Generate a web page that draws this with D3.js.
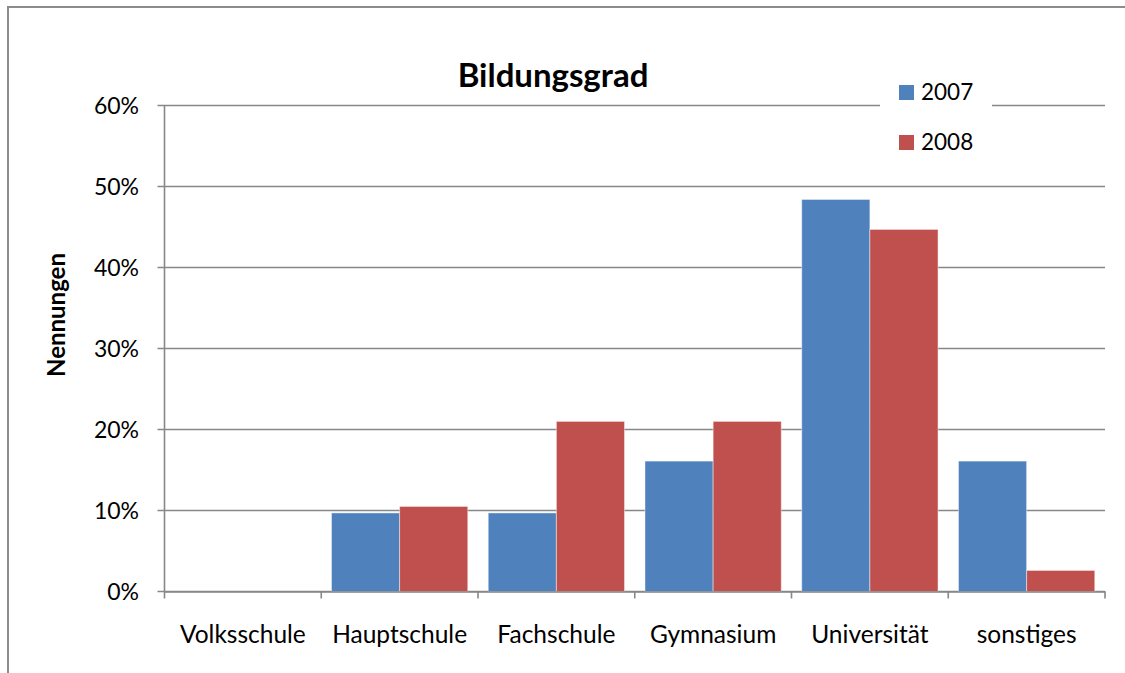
<!DOCTYPE html>
<html>
<head>
<meta charset="utf-8">
<script src="https://cdn.jsdelivr.net/npm/d3@7"></script>
<style>
  html, body { margin: 0; background: #fff; overflow: hidden; }
  svg { display: block; font-family: Lato, 'Open Sans', sans-serif; }
</style>
</head>
<body>
<svg id="chart"></svg>
<script>
// Data (share of mentions per school type)
const categories = ['Volksschule', 'Hauptschule', 'Fachschule', 'Gymnasium', 'Universität', 'sonstiges'];
const years = ['2007', '2008'];
const values2007 = [0, 0.097, 0.097, 0.161, 0.484, 0.161];
const values2008 = [0, 0.105, 0.21, 0.21, 0.447, 0.026];
const yTicks = [0, 0.1, 0.2, 0.3, 0.4, 0.5, 0.6];

const colors = { '2007': '#4F81BD', '2008': '#C0504D' };

const rows = categories.map((c, i) => ({ category: c, '2007': values2007[i], '2008': values2008[i] }));

const width = 1125;
const height = 673;
const marginTop = 105.5;
const marginRight = 20;
const marginBottom = 81.5;
const marginLeft = 164.5;
const gridColor = '#888888';

const svg = d3.select('#chart').attr('width', width).attr('height', height);

// outer frame: only the top and left edges are in the picture
svg.append('line')
  .attr('x1', 7).attr('x2', width)
  .attr('y1', 7).attr('y2', 7)
  .attr('stroke', '#8c8c8c')
  .attr('stroke-width', 2);
svg.append('line')
  .attr('x1', 8).attr('x2', 8)
  .attr('y1', 7).attr('y2', height)
  .attr('stroke', '#8c8c8c')
  .attr('stroke-width', 2);

const x = d3.scaleBand()
  .domain(categories)
  .range([marginLeft, width - marginRight]);

const xInner = d3.scaleBand()
  .domain(years)
  .range([0, x.bandwidth()])
  .paddingOuter(0.15);

const y = d3.scaleLinear()
  .domain([0, 0.6])
  .range([height - marginBottom, marginTop]);

// gridlines + y ticks
svg.append('g')
  .selectAll('line')
  .data(yTicks)
  .join('line')
  .attr('x1', marginLeft - 7)
  .attr('x2', width - marginRight)
  .attr('y1', (d) => y(d))
  .attr('y2', (d) => y(d))
  .attr('stroke', gridColor)
  .attr('stroke-width', 1.6);

svg.append('g')
  .selectAll('text')
  .data(yTicks)
  .join('text')
  .attr('x', 139)
  .attr('y', (d) => y(d))
  .attr('dy', '0.35em')
  .attr('text-anchor', 'end')
  .attr('font-size', 23)
  .attr('fill', '#000')
  .text(d3.format('.0%'));

// bars
svg.append('g')
  .selectAll('g')
  .data(rows)
  .join('g')
  .attr('transform', (d) => `translate(${x(d.category)},0)`)
  .selectAll('rect')
  .data((d) => years.map((yr) => ({ key: yr, value: d[yr] })))
  .join('rect')
  .attr('x', (d) => xInner(d.key))
  .attr('y', (d) => y(d.value))
  .attr('width', xInner.bandwidth())
  .attr('height', (d) => y(0) - y(d.value))
  .attr('fill', (d) => colors[d.key])
  .attr('stroke', 'rgba(255,255,255,0.45)')
  .attr('stroke-width', 1);

// y axis line
svg.append('line')
  .attr('x1', marginLeft).attr('x2', marginLeft)
  .attr('y1', y(0.6)).attr('y2', y(0))
  .attr('stroke', gridColor)
  .attr('stroke-width', 1.6);

// x axis
const xAxis = svg.append('g')
  .attr('transform', `translate(0,${y(0)})`)
  .call(d3.axisBottom(x).tickSize(0).tickPadding(34).tickSizeOuter(0));
xAxis.select('.domain').attr('stroke', gridColor).attr('stroke-width', 1.6);
xAxis.selectAll('text').attr('font-size', 24.5).attr('fill', '#000').attr('font-family', 'Lato');

// tick marks at the category boundaries
const bounds = categories.map((c) => x(c)).concat([x(categories[categories.length - 1]) + x.bandwidth()]);
xAxis.append('g')
  .selectAll('line')
  .data(bounds)
  .join('line')
  .attr('x1', (d) => d).attr('x2', (d) => d)
  .attr('y1', 0).attr('y2', 7)
  .attr('stroke', gridColor)
  .attr('stroke-width', 1.6);

// y axis title
svg.append('text')
  .attr('transform', `translate(65,315) rotate(-90)`)
  .attr('text-anchor', 'middle')
  .attr('font-size', 24)
  .attr('font-weight', 'bold')
  .attr('fill', '#000')
  .text('Nennungen');

// title
svg.append('text')
  .attr('x', 553)
  .attr('y', 87)
  .attr('text-anchor', 'middle')
  .attr('font-size', 33)
  .attr('font-weight', 'bold')
  .attr('fill', '#000')
  .text('Bildungsgrad');

// legend (white box covers the top gridline)
svg.append('rect')
  .attr('x', 880).attr('y', 70)
  .attr('width', 112).attr('height', 96)
  .attr('fill', '#fff');

const legend = svg.append('g')
  .selectAll('g')
  .data(years)
  .join('g')
  .attr('transform', (d, i) => `translate(899,${85 + i * 50})`);

legend.append('rect')
  .attr('width', 15).attr('height', 15)
  .attr('fill', (d) => colors[d]);

legend.append('text')
  .attr('x', 22)
  .attr('y', 15)
  .attr('font-size', 22.5)
  .attr('fill', '#000')
  .text((d) => d);
</script>
</body>
</html>
